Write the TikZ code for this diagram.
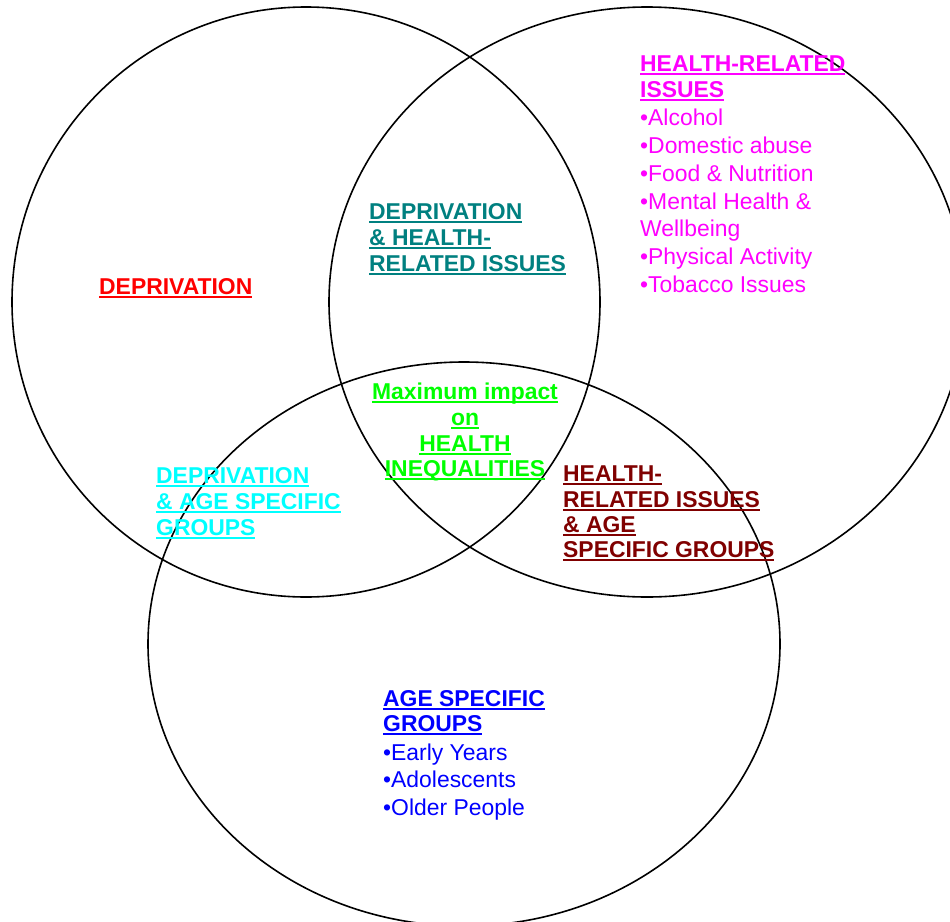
\documentclass[tikz,border=0pt]{standalone}
\usepackage{fontspec}
\setmainfont{Liberation Sans}
\newcommand{\myul}[1]{\setbox0=\hbox{#1}\rlap{\rule[-4pt]{\wd0}{2.2pt}}\box0}
\definecolor{cred}{RGB}{255,0,0}
\definecolor{cteal}{RGB}{0,128,128}
\definecolor{cmag}{RGB}{255,0,255}
\definecolor{cgreen}{RGB}{0,255,0}
\definecolor{ccyan}{RGB}{0,255,255}
\definecolor{cmaroon}{RGB}{128,0,0}
\definecolor{cblue}{RGB}{0,0,255}
\tikzset{
  lbl/.style={inner sep=0pt, anchor=base west, font=\fontsize{22.9}{26}\selectfont},
  hd/.style={lbl, font=\fontsize{22.9}{26}\selectfont\bfseries},
  ring/.style={draw=black, line width=1.6pt}
}
\begin{document}
\begin{tikzpicture}[x=1pt, y=-1pt]
\useasboundingbox (0,0) rectangle (950,921);
\fill[white] (0,0) rectangle (950,921);
\begin{scope}
\clip (0,0) rectangle (950,921);
\draw[ring] (306,302) ellipse [x radius=294, y radius=295];
\draw[ring] (647,302) ellipse [x radius=318, y radius=295];
\draw[ring] (464,644) ellipse [x radius=316, y radius=282];
\end{scope}
% Deprivation
\node[hd, text=cred] (dep) at (99,294) {\myul{DEPRIVATION}};
% Health-related issues
\node[hd, text=cmag] (hr1) at (640,71) {\myul{HEALTH-RELATED}};
\node[hd, text=cmag] (hr2) at (640,97) {\myul{ISSUES}};
\node[lbl, text=cmag] (hr3) at (640,125) {•Alcohol};
\node[lbl, text=cmag] (hr4) at (640,153) {•Domestic abuse};
\node[lbl, text=cmag] (hr5) at (640,181) {•Food \& Nutrition};
\node[lbl, text=cmag] (hr6) at (640,209) {•Mental Health \&};
\node[lbl, text=cmag] (hr7) at (640,236) {Wellbeing};
\node[lbl, text=cmag] (hr8) at (640,264) {•Physical Activity};
\node[lbl, text=cmag] (hr9) at (640,292) {•Tobacco Issues};
% Deprivation & health
\node[hd, text=cteal] (dh1) at (369,219) {\myul{DEPRIVATION}};
\node[hd, text=cteal] (dh2) at (369,245) {\myul{\& HEALTH-}};
\node[hd, text=cteal] (dh3) at (369,271) {\myul{RELATED ISSUES}};
% Maximum impact
\node[hd, text=cgreen, anchor=base] (mx1) at (465,399) {\myul{Maximum impact}};
\node[hd, text=cgreen, anchor=base] (mx2) at (465,425) {\myul{on}};
\node[hd, text=cgreen, anchor=base] (mx3) at (465,451) {\myul{HEALTH}};
\node[hd, text=cgreen, anchor=base] (mx4) at (465,476) {\myul{INEQUALITIES}};
% Deprivation & age
\node[hd, text=ccyan] (da1) at (156,483) {\myul{DEPRIVATION}};
\node[hd, text=ccyan] (da2) at (156,509) {\myul{\& AGE SPECIFIC}};
\node[hd, text=ccyan] (da3) at (156,535) {\myul{GROUPS}};
% Health & age
\node[hd, text=cmaroon] (ha1) at (563,481) {\myul{HEALTH-}};
\node[hd, text=cmaroon] (ha2) at (563,507) {\myul{RELATED ISSUES}};
\node[hd, text=cmaroon] (ha3) at (563,532) {\myul{\& AGE}};
\node[hd, text=cmaroon] (ha4) at (563,557) {\myul{SPECIFIC GROUPS}};
% Age specific groups
\node[hd, text=cblue] (ag1) at (383,706) {\myul{AGE SPECIFIC}};
\node[hd, text=cblue] (ag2) at (383,731) {\myul{GROUPS}};
\node[lbl, text=cblue] (ag3) at (383,760) {•Early Years};
\node[lbl, text=cblue] (ag4) at (383,787) {•Adolescents};
\node[lbl, text=cblue] (ag5) at (383,815) {•Older People};
\end{tikzpicture}
\end{document}
